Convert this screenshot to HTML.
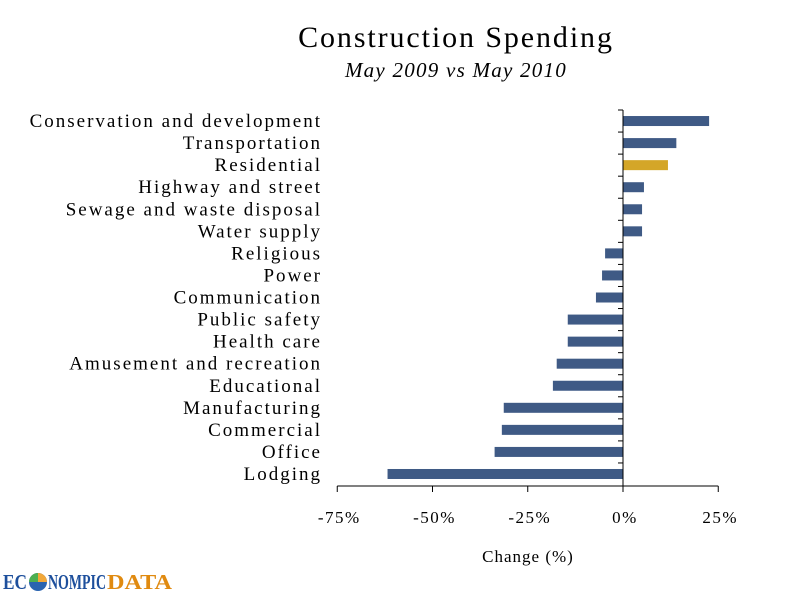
<!DOCTYPE html>
<html><head><meta charset="utf-8"><style>
body{margin:0;background:#fff;}
svg text{font-family:"Liberation Serif",serif;fill:#000;}
</style></head><body>
<svg width="800" height="600">
<text x="456" y="47" text-anchor="middle" font-size="30" letter-spacing="1.9">Construction Spending</text>
<text x="456" y="77" text-anchor="middle" font-size="21" font-style="italic" letter-spacing="1.25">May 2009 vs May 2010</text>
<g id="plot"></g>
<text x="528" y="562" text-anchor="middle" font-size="17" letter-spacing="1">Change (%)</text>
<g>
<text x="3" y="589" font-size="21" font-weight="bold" style="fill:#1d4f9c" textLength="24" lengthAdjust="spacingAndGlyphs">EC</text>
<circle cx="38" cy="582" r="9" fill="#2a64b0"/><path d="M38 582 L38 573 A9 9 0 0 1 47 582Z" fill="#f2a83a"/><path d="M38 582 L29 582 A9 9 0 0 1 38 573Z" fill="#4caf50"/>
<text x="48" y="589" font-size="21" font-weight="bold" style="fill:#1d4f9c" textLength="58" lengthAdjust="spacingAndGlyphs">NOMPIC</text>
<text x="107" y="589" font-size="21" font-weight="bold" style="fill:#e08a10" textLength="65" lengthAdjust="spacingAndGlyphs">DATA</text>
</g>
</svg>
<script>
const categories=["Conservation and development","Transportation","Residential","Highway and street","Sewage and waste disposal","Water supply","Religious","Power","Communication","Public safety","Health care","Amusement and recreation","Educational","Manufacturing","Commercial","Office","Lodging"];
const values=[22.6,14,11.8,5.5,5,5,-4.7,-5.5,-7.1,-14.5,-14.5,-17.4,-18.4,-31.3,-31.8,-33.7,-61.8];
const ticks=[-75,-50,-25,0,25];
const tickLabels=["-75%","-50%","-25%","0%","25%"];
const NS="http://www.w3.org/2000/svg";
const g=document.getElementById('plot');
const x=v=>623+v*3.81;
const y0=110,step=22.06;
const y=i=>y0+step*(i+0.5);
function mk(t,a){const e=document.createElementNS(NS,t);for(const k in a)e.setAttribute(k,a[k]);g.appendChild(e);return e;}
categories.forEach((c,i)=>{
 const v=values[i];
 const r=mk('rect',{x:Math.min(x(0),x(v)),y:y(i)-5,width:Math.abs(x(v)-x(0)),height:10,fill:c==="Residential"?"#d4a628":"#3f5a85"});
 
 
 const t=mk('text',{x:322,y:y(i)+6,'text-anchor':'end','font-size':19,'letter-spacing':2});
 t.textContent=c;
 
 
});
const ya=mk('line',{x1:623,x2:623,y1:y0,y2:486,stroke:'#000','stroke-width':1});


for(let i=0;i<categories.length;i++){const tk=mk('line',{x1:618,x2:623,y1:y0+step*i,y2:y0+step*i,stroke:'#000'});}
const xa=mk('line',{x1:x(-75),x2:x(25),y1:486,y2:486,stroke:'#000'});


ticks.forEach((t,i)=>{
 const l=mk('line',{x1:x(t),x2:x(t),y1:486,y2:492,stroke:'#000'});
 
 
 const tx=mk('text',{x:x(t)+2,y:523,'text-anchor':'middle','font-size':17,'letter-spacing':1.5});
 tx.textContent=tickLabels[i];
 
 
});
</script>
</body></html>
